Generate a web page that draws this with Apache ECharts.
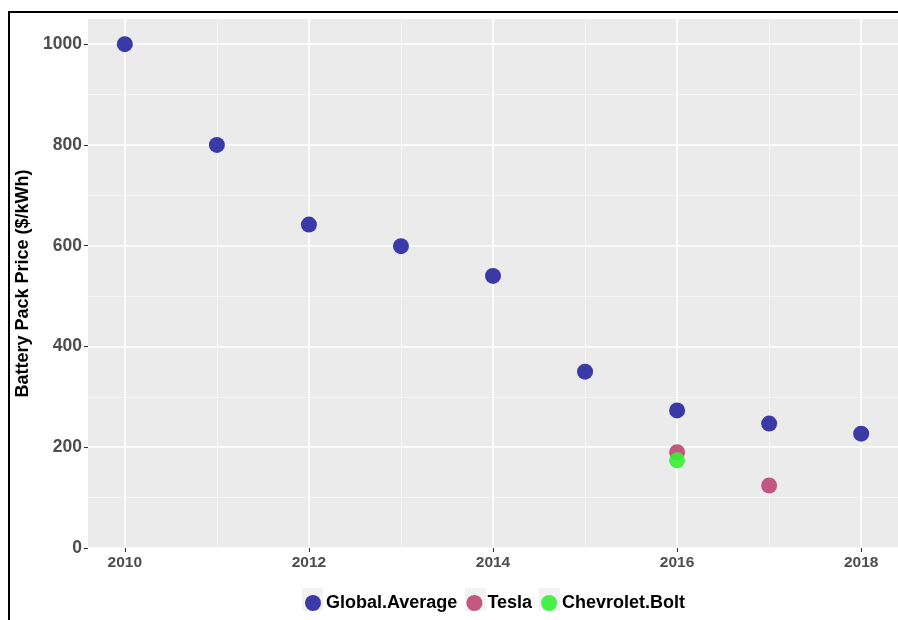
<!DOCTYPE html>
<html><head><meta charset="utf-8">
<script src="https://cdn.jsdelivr.net/npm/echarts@6/dist/echarts.min.js"></script>
<style>html,body{margin:0;padding:0;background:#fff}#c{width:898px;height:620px}</style>
</head><body><div id="c"></div>
<script>
const years = [2010, 2011, 2012, 2013, 2014, 2015, 2016, 2017, 2018];
const globalAverage = [1000, 800, 642, 599, 540, 350, 273, 247, 227];
const teslaYears = [2016, 2017];
const teslaValues = [190, 124];
const boltYears = [2016];
const boltValues = [174];
const seriesNames = ['Global.Average', 'Tesla', 'Chevrolet.Bolt'];
const xMajorTicks = [2010, 2012, 2014, 2016, 2018];
const xMinorTicks = [2011, 2013, 2015, 2017];
const yMajorTicks = [0, 200, 400, 600, 800, 1000];
const yMinorTicks = [100, 300, 500, 700, 900];
const yTitle = 'Battery Pack Price ($/kWh)';

const FONT = '"Liberation Sans", Arial, Helvetica, sans-serif';
const colors = ['#3A3AA6', '#C2587F', '#38F038'];

const chart = echarts.init(document.getElementById('c'), null, {renderer: 'canvas'});
const xRange = {min: 2009.6, max: 2018.4};
const yRange = {min: 0, max: 1050};
const plain = v => String(v);

chart.setOption({
  animation: false,
  textStyle: {fontFamily: FONT},
  grid: {left: 88, right: 0, top: 19, bottom: 72, show: true, backgroundColor: '#EBEBEB', borderWidth: 0},
  legend: {
    data: seriesNames, left: 300, top: 589, icon: 'circle', itemWidth: 16, itemHeight: 16,
    itemGap: 9, z: 5, textStyle: {fontFamily: FONT, fontSize: 18, fontWeight: 'bold', color: '#000'}
  },
  xAxis: [{
    type: 'value', min: xRange.min, max: xRange.max, position: 'bottom',
    axisLine: {show: false},
    axisTick: {show: true, length: 4, lineStyle: {color: '#333'}, customValues: xMajorTicks},
    axisLabel: {customValues: xMajorTicks, formatter: plain, fontSize: 15.5, fontWeight: 'bold', color: '#4D4D4D', margin: 7, fontFamily: FONT},
    splitLine: {show: true, lineStyle: {color: '#FFFFFF', width: 1.6}}
  }, {
    type: 'value', min: xRange.min, max: xRange.max, position: 'bottom',
    axisLine: {show: false},
    axisTick: {show: false, customValues: xMinorTicks},
    axisLabel: {show: false, customValues: xMinorTicks, formatter: plain},
    splitLine: {show: true, lineStyle: {color: '#F7F7F7', width: 0.8}}
  }],
  yAxis: [{
    type: 'value', min: yRange.min, max: yRange.max, position: 'left',
    name: yTitle, nameLocation: 'middle', nameGap: 43,
    nameTextStyle: {fontFamily: FONT, fontSize: 18, fontWeight: 'bold', color: '#000'},
    axisLine: {show: false},
    axisTick: {show: true, length: 4, lineStyle: {color: '#333'}, customValues: yMajorTicks},
    axisLabel: {customValues: yMajorTicks, formatter: plain, fontSize: 17.5, fontWeight: 'bold', color: '#4D4D4D', margin: 6, fontFamily: FONT},
    splitLine: {show: true, lineStyle: {color: '#FFFFFF', width: 1.6}}
  }, {
    type: 'value', min: yRange.min, max: yRange.max, position: 'left',
    axisLine: {show: false},
    axisTick: {show: false, customValues: yMinorTicks},
    axisLabel: {show: false, customValues: yMinorTicks, formatter: plain},
    splitLine: {show: true, lineStyle: {color: '#F7F7F7', width: 0.8}}
  }],
  series: [{
    name: seriesNames[0], type: 'scatter', symbolSize: 16,
    itemStyle: {color: colors[0], opacity: 1},
    data: years.map((y, i) => [y, globalAverage[i]])
  }, {
    name: seriesNames[1], type: 'scatter', symbolSize: 16,
    itemStyle: {color: colors[1], opacity: 1},
    data: teslaYears.map((y, i) => [y, teslaValues[i]])
  }, {
    name: seriesNames[2], type: 'scatter', symbolSize: 16,
    itemStyle: {color: colors[2], opacity: 0.92},
    data: boltYears.map((y, i) => [y, boltValues[i]])
  }],
  graphic: [
    {type: 'line', shape: {x1: 8, y1: 12, x2: 898, y2: 12}, style: {stroke: '#000', lineWidth: 2}, z: 10},
    {type: 'line', shape: {x1: 9, y1: 11, x2: 9, y2: 620}, style: {stroke: '#000', lineWidth: 2}, z: 10},
    {type: 'rect', shape: {x: 302, y: 588, width: 21, height: 23}, style: {fill: '#F2F2F2'}, z: 1},
    {type: 'rect', shape: {x: 465, y: 588, width: 21, height: 23}, style: {fill: '#F2F2F2'}, z: 1},
    {type: 'rect', shape: {x: 539, y: 588, width: 21, height: 23}, style: {fill: '#F2F2F2'}, z: 1}
  ]
});
</script>
</body></html>
